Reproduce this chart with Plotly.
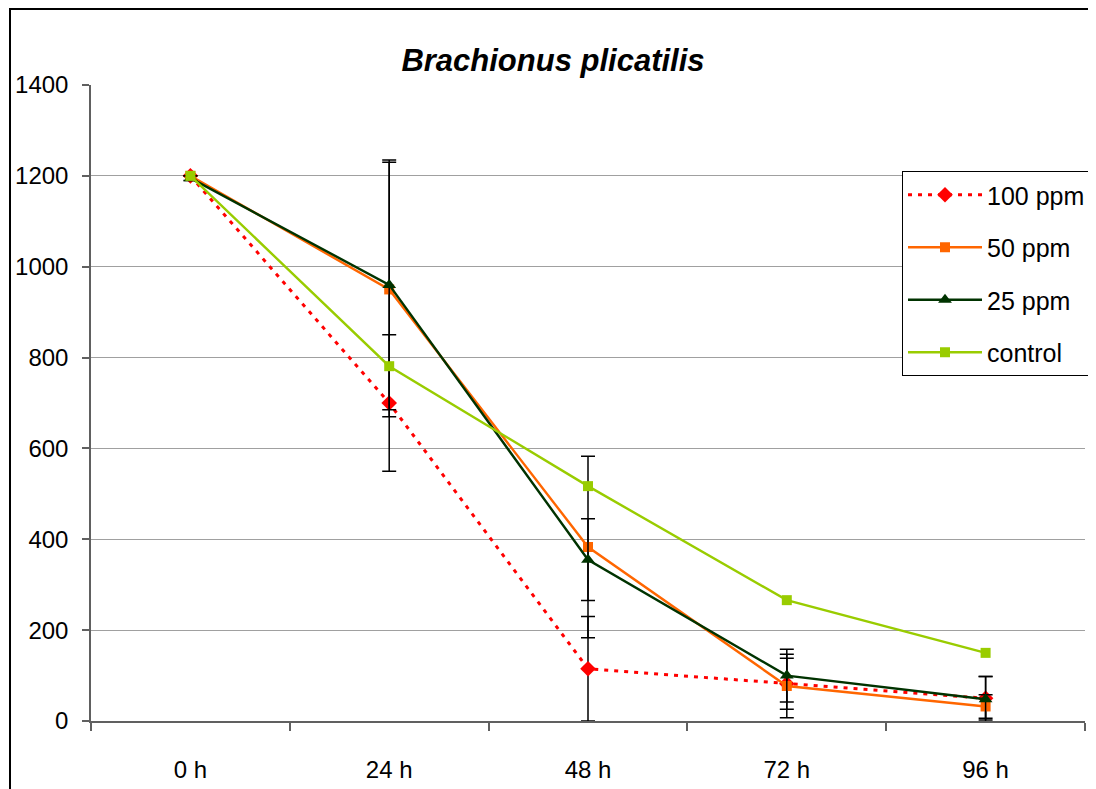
import plotly.graph_objects as go

hours = ["0 h", "24 h", "48 h", "72 h", "96 h"]
ppm100 = [1200, 700, 115, 82, 50]
err100 = [0, 150, 115, 56, 48]
ppm50 = [1200, 950, 383, 77, 32]
err50 = [0, 280, 200, 70, 26]
ppm25 = [1195, 960, 355, 100, 48]
err25 = [5, 275, 90, 58, 50]
control = [1200, 781, 517, 266, 150]

FONT = "Liberation Sans, Arial, sans-serif"

def eb(arr):
    return dict(type="data", array=arr, visible=True, color="black", thickness=1.5, width=7)

fig = go.Figure()
fig.add_trace(go.Scatter(x=hours, y=ppm100, name="100 ppm", mode="lines+markers",
                         line=dict(color="#FF0000", width=3, dash="4px,6px"),
                         marker=dict(symbol="diamond", size=12, color="#FF0000"),
                         error_y=eb(err100), legendgroup="a"))
fig.add_trace(go.Scatter(x=hours, y=ppm50, name="50 ppm", mode="lines+markers",
                         line=dict(color="#FF6600", width=2.4),
                         marker=dict(symbol="square", size=10, color="#FF6600"),
                         error_y=eb(err50), legendgroup="b"))
fig.add_trace(go.Scatter(x=hours, y=ppm25, name="25 ppm", mode="lines+markers",
                         line=dict(color="#003300", width=2.4),
                         marker=dict(symbol="triangle-up", size=12, color="#003300"),
                         error_y=eb(err25), legendgroup="c"))
fig.add_trace(go.Scatter(x=hours, y=control, name="control", mode="lines+markers",
                         line=dict(color="#99CC00", width=2.4),
                         marker=dict(symbol="square", size=10, color="#99CC00"),
                         legendgroup="d"))

# page has an 8px body margin; compensate so the picture lines up
OFF = 8
W, H = 1096, 789
L = 91 - OFF
T = 85 - OFF
R = W - (1085 - OFF)
B = H - (721 - OFF)
pw, ph = W - L - R, H - T - B

def px(xpix):
    return (xpix - OFF - L) / pw

def py(ypix):
    return (H - B - (ypix - OFF)) / ph

fig.update_layout(
    width=W, height=H,
    margin=dict(l=L, r=R, t=T, b=B, autoexpand=False),
    paper_bgcolor="white", plot_bgcolor="white",
    font=dict(family=FONT, size=24, color="black"),
    title=dict(text="Brachionus plicatilis", x=px(553), xref="paper", xanchor="center",
               y=1 - (60 - OFF) / H, yref="container", yanchor="middle",
               font=dict(family=FONT, size=31, color="black", style="italic", weight="bold")),
    showlegend=True,
    legend=dict(x=px(902), y=py(171), xanchor="left", yanchor="top",
                bgcolor="white", bordercolor="black", borderwidth=1,
                font=dict(family=FONT, size=25, color="black"),
                traceorder="grouped", tracegroupgap=17, itemwidth=74),
    shapes=[dict(type="rect", xref="paper", yref="paper",
                 x0=px(10), x1=px(1120), y0=py(820), y1=py(9),
                 line=dict(color="black", width=2), fillcolor="rgba(0,0,0,0)", layer="below")],
)
fig.update_xaxes(type="category", range=[-0.5, 4.5], showgrid=False, showline=True,
                 linecolor="#606060", linewidth=1.5,
                 ticks="outside", tickson="boundaries", ticklen=8, tickcolor="#606060", tickwidth=1.5,
                 ticklabelstandoff=26, tickfont=dict(size=24))
fig.update_yaxes(range=[0, 1400], dtick=200, showgrid=True, gridcolor="#A0A0A0", gridwidth=1,
                 showline=True, linecolor="#606060", linewidth=1.5, zeroline=False,
                 ticks="outside", ticklen=7, tickcolor="#606060", tickwidth=1.5,
                 ticklabelstandoff=9, tickfont=dict(size=24))

fig.write_html("out.html")
